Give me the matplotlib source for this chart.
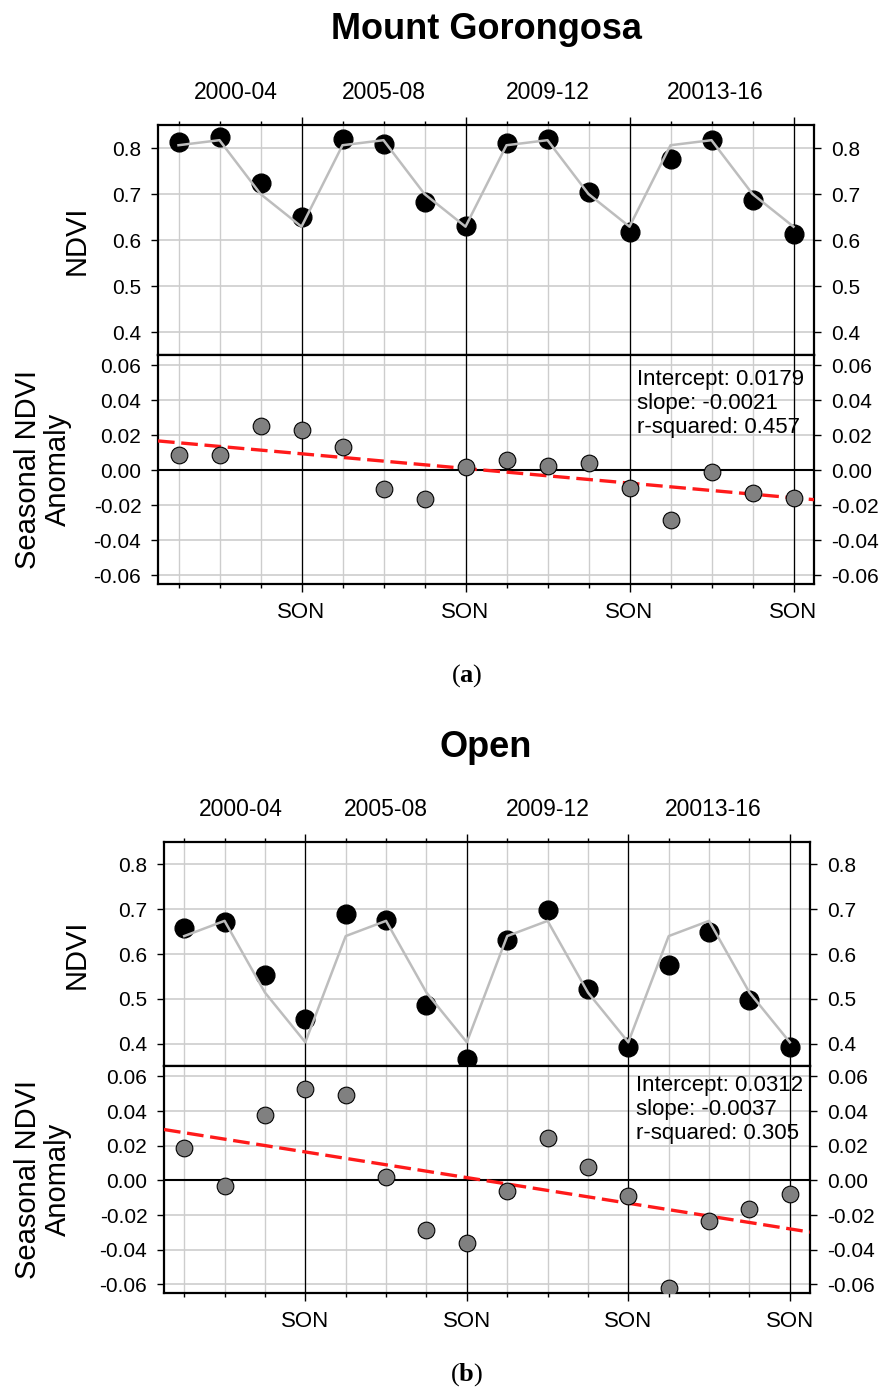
import matplotlib
matplotlib.use('Agg')
import matplotlib.pyplot as plt
import numpy as np

plt.rcParams['font.family'] = ['Liberation Sans', 'DejaVu Sans']
plt.rcParams['mathtext.fontset'] = 'custom'
plt.rcParams['mathtext.rm'] = 'Liberation Serif'
plt.rcParams['mathtext.bf'] = 'Liberation Serif:bold'

W, H = 885, 1390

# 16 seasons: DJF, MAM, JJA, SON for each of the four periods
season_x = list(range(1, 17))
son_x = [4, 8, 12, 16]
son_labels = ['SON', 'SON', 'SON', 'SON']
period_labels = ['2000-04', '2005-08', '2009-12', '20013-16']
period_x = [2.4, 6.0, 10.0, 14.1]

# Mount Gorongosa
gor_ndvi = [0.813, 0.825, 0.725, 0.651, 0.819, 0.808, 0.682, 0.630,
            0.811, 0.819, 0.704, 0.617, 0.777, 0.817, 0.686, 0.612]
gor_clim = [0.806, 0.817, 0.700, 0.629, 0.806, 0.817, 0.700, 0.629,
            0.806, 0.817, 0.700, 0.629, 0.806, 0.817, 0.700, 0.629]
gor_anom = [0.0087, 0.0087, 0.0251, 0.0232, 0.0136, -0.0106, -0.0166, 0.0021,
            0.0057, 0.0026, 0.0042, -0.0102, -0.0283, -0.0008, -0.0128, -0.0160]
gor_fit = [0.0179, -0.0021, 0.457]

# Open
open_ndvi = [0.658, 0.672, 0.554, 0.455, 0.689, 0.677, 0.486, 0.366,
             0.632, 0.699, 0.521, 0.393, 0.576, 0.648, 0.498, 0.393]
open_clim = [0.640, 0.674, 0.514, 0.403, 0.640, 0.674, 0.514, 0.403,
             0.640, 0.674, 0.514, 0.403, 0.640, 0.674, 0.514, 0.403]
open_anom = [0.0189, -0.0034, 0.0379, 0.0528, 0.0495, 0.0017, -0.0288, -0.0364,
             -0.0063, 0.0246, 0.0076, -0.0088, -0.0621, -0.0236, -0.0168, -0.0078]
open_fit = [0.0312, -0.0037, 0.305]

ndvi_ticks = [0.4, 0.5, 0.6, 0.7, 0.8]
anom_ticks = [-0.06, -0.04, -0.02, 0.0, 0.02, 0.04, 0.06]

GRID = '#cdcdcd'


def rect(left, right, top, bottom):
    return [left / W, 1 - bottom / H, (right - left) / W, (bottom - top) / H]


def frame(ax):
    for s in ax.spines.values():
        s.set_linewidth(1.6)
    ax.set_xlim(0.5, 16.5)
    for x in season_x:
        ax.axvline(x, color=GRID, lw=1.0, zorder=0)
    for x in son_x:
        ax.axvline(x, color='black', lw=0.9, zorder=1)
    ax.yaxis.grid(True, color=GRID, lw=1.2, zorder=0)
    ax.set_axisbelow(True)
    ax.tick_params(axis='y', which='both', direction='out', length=5, width=1,
                   left=True, right=True, labelleft=True, labelright=True,
                   labelsize=15, pad=7)
    ax.set_xticks(son_x)
    ax.set_xticks([x for x in season_x if x not in son_x], minor=True)
    ax.tick_params(axis='x', which='major', direction='out', length=6, width=1)
    ax.tick_params(axis='x', which='minor', direction='out', length=3, width=1)


def panel(fig, title, tag, ndvi, clim, anom, fit, box, title_y, tag_y, txt_y):
    left, right, top, mid, bottom = box
    ax1 = fig.add_axes(rect(left, right, top, mid))
    ax2 = fig.add_axes(rect(left, right, mid, bottom))

    frame(ax1)
    ax1.set_ylim(0.35, 0.85)
    ax1.set_yticks(ndvi_ticks)
    ax1.set_yticklabels(['%.1f' % v for v in ndvi_ticks])
    ax1.tick_params(axis='x', which='both', top=True, bottom=False,
                    labeltop=False, labelbottom=False)
    ax1.plot(season_x, ndvi, 'o', color='black', ms=13.5, zorder=3)
    ax1.plot(season_x, clim, color='#bdbdbd', lw=1.8, zorder=4)
    for x, lab in zip(period_x, period_labels):
        ax1.text(x, 1 + 26 / (mid - top), lab, transform=ax1.get_xaxis_transform(),
                 ha='center', va='baseline', fontsize=16.5)

    frame(ax2)
    ax2.set_ylim(-0.065, 0.066)
    ax2.set_yticks(anom_ticks)
    ax2.set_yticklabels(['%.2f' % v for v in anom_ticks])
    ax2.tick_params(axis='x', which='both', top=False, bottom=True,
                    labeltop=False, labelbottom=True, labelsize=16, pad=7)
    ax2.set_xticklabels(son_labels)
    ax2.axhline(0, color='black', lw=1.5, zorder=2)
    b, m, r2 = fit
    xs = np.array([0.5, 16.5])
    ax2.plot(xs, b + m * xs, color='#ff1a1a', lw=2.4, dashes=(5, 2), zorder=3)
    ax2.plot(season_x, anom, 'o', color='#808080', mec='black', mew=0.8,
             ms=12, zorder=4)
    ax2.text(0.73, 1 - (txt_y - mid) / (bottom - mid),
             'Intercept: %.4f\nslope: %.4f\nr-squared: %.3f' % (b, m, r2),
             transform=ax2.transAxes, ha='left', va='top', fontsize=16,
             linespacing=1.2)

    fig.text(77 / W, 1 - (top + mid) / 2 / H, 'NDVI', rotation=90,
             ha='center', va='center', fontsize=21)
    fig.text(43 / W, 1 - (mid + bottom) / 2 / H, 'Seasonal NDVI\nAnomaly',
             rotation=90, ha='center', va='center', fontsize=21, linespacing=1.05)
    fig.text(486 / W, 1 - title_y / H, title, ha='center', va='baseline',
             fontsize=26, fontweight='bold')
    fig.text(467 / W, 1 - tag_y / H, r'$\mathrm{(}\mathbf{%s}\mathrm{)}$' % tag,
             ha='center', va='baseline', fontsize=19)


fig = plt.figure(figsize=(W / 100, H / 100), dpi=100)
panel(fig, 'Mount Gorongosa', 'a', gor_ndvi, gor_clim, gor_anom, gor_fit,
      (158, 814, 125, 355, 584), 39, 682, 369)
panel(fig, 'Open', 'b', open_ndvi, open_clim, open_anom, open_fit,
      (164, 810, 842, 1066, 1293), 757, 1381, 1075)

fig.savefig('out.png', dpi=100)
